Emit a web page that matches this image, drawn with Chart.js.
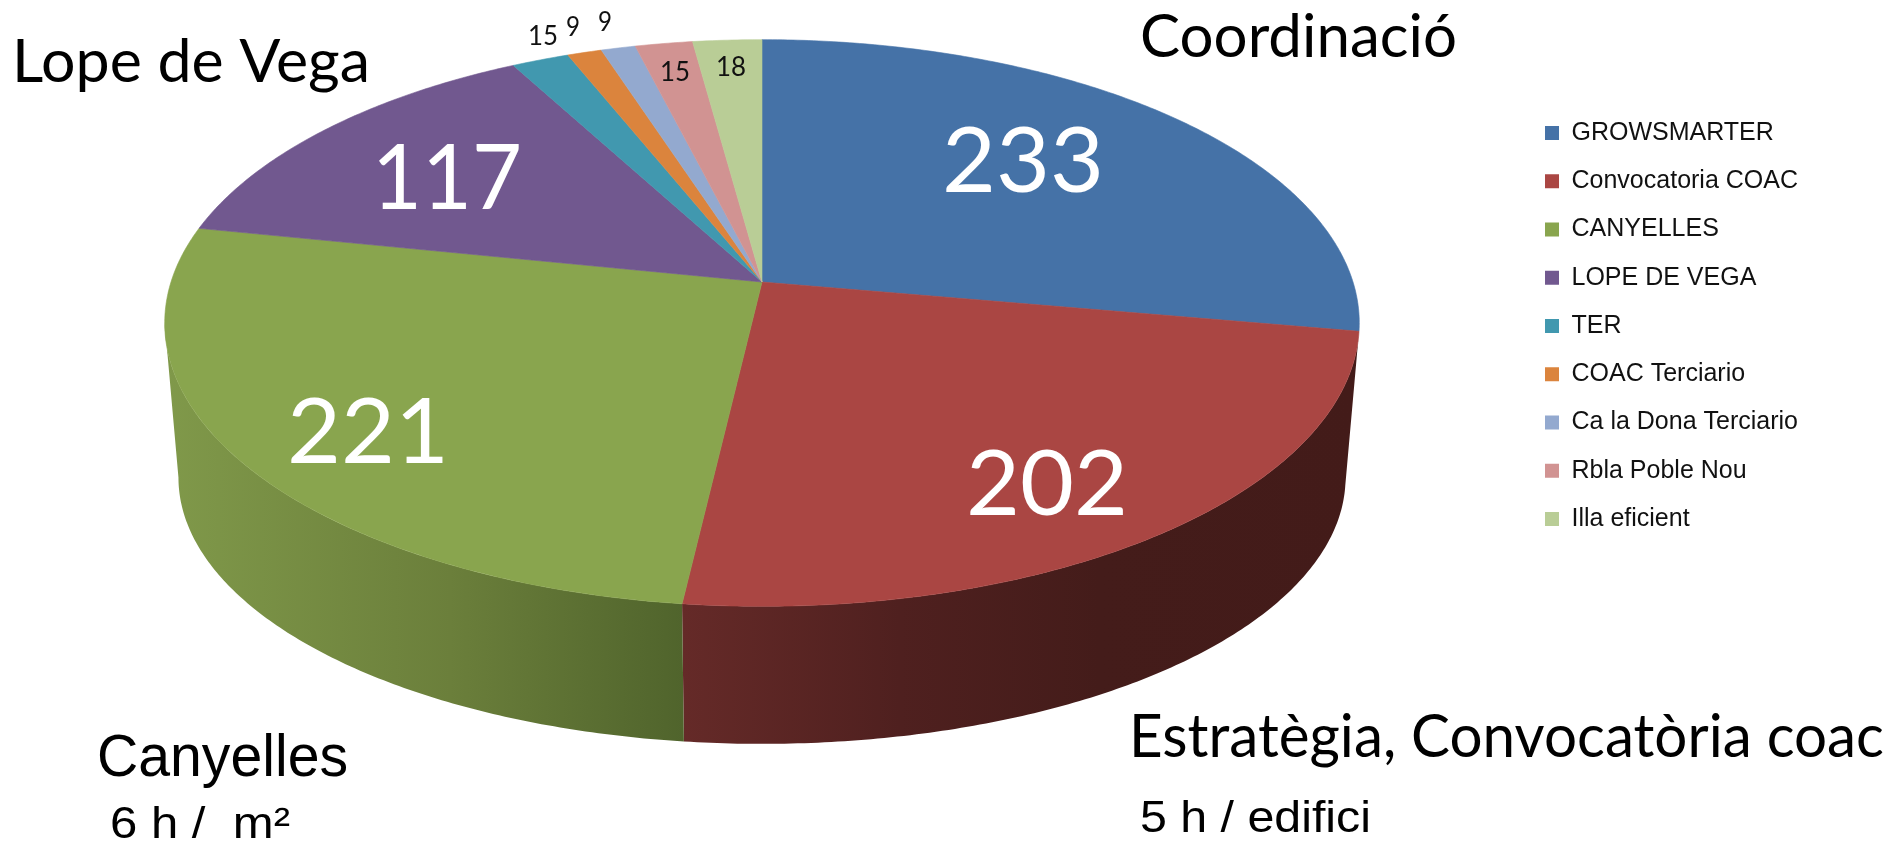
<!DOCTYPE html>
<html>
<head>
<meta charset="utf-8">
<title>Hores per projecte</title>
<script src="https://cdn.jsdelivr.net/npm/chart.js@4"></script>
<style>
  html, body { margin: 0; padding: 0; background: #fff; overflow: hidden; }
  canvas { display: block; }
</style>
</head>
<body>
<canvas id="grafica" width="1891" height="846"></canvas>
<script>
const categorias = ["GROWSMARTER", "Convocatoria COAC", "CANYELLES", "LOPE DE VEGA", "TER", "COAC Terciario", "Ca la Dona Terciario", "Rbla Poble Nou", "Illa eficient"];
const horas = [233, 202, 221, 117, 15, 9, 9, 15, 18];
const colores = ["#4572a7", "#aa4643", "#89a54e", "#71588f", "#4198af", "#db843d", "#93a9cf", "#d19392", "#b9cd96"];

// perspectiva de la tarta: centro, semiejes y fuga
const cx = 762, cy = 282, ejeX = 591, ejeY = 277.4, fuga = -0.1447;
// aro inferior (grosor de la tarta)
const grosor = 157, escalaX = 0.977, escalaY = 0.94;
// angulo donde el canto deja de verse
const limite = Math.asin(-fuga);

// degradado del canto, solo las porciones que se ven de frente
const cantos = [
  null,
  [[683, "#652a28"], [900, "#4f201f"], [1100, "#441c1a"], [1360, "#431b19"]],
  [[164, "#80994a"], [450, "#6b7f3b"], [683, "#50642c"]],
  null, null, null, null, null, null
];

// etiquetas de valor: x, y, tamaño, ancho, color
const etiquetas = [
  [1023, 162, 92, 162, "#fff"],
  [1047, 485, 92, 162, "#fff"],
  [368, 433, 92, 162, "#fff"],
  [447, 179, 92, 150, "#fff"],
  [543, 37, 26, 30, "#111"],
  [573, 28, 26, 14, "#111"],
  [605, 23, 26, 14, "#111"],
  [675, 73, 26, 30, "#111"],
  [731, 68, 26, 30, "#111"]
];

// textos sueltos: texto, x, linea base, fuente, ancho
const textos = [
  ["Coordinació", 1140, 57, "60px Lato", 317],
  ["Lope de Vega", 12, 82, "60px Lato", 358],
  ["Canyelles", 97, 776, "60px 'Liberation Sans'", 251],
  ["6 h /  m²", 110, 838, "44px 'Liberation Sans'", 180],
  ["Estratègia, Convocatòria coac", 1129, 757, "60px Lato", 755],
  ["5 h / edifici", 1140, 832, "44px 'Liberation Sans'", 231]
];

function proyectar(a, r, abajo) {
  const u = r * Math.cos(a), v = r * Math.sin(a);
  const w = 1 + fuga * v;
  if (abajo) {
    return [cx + escalaX * ejeX * u / w, cy + grosor + escalaY * ejeY * v / w];
  }
  return [cx + ejeX * u / w, cy + ejeY * v / w];
}

function trazarArco(ctx, a0, a1, abajo, mover) {
  const pasos = Math.max(4, Math.ceil(Math.abs(a1 - a0) / 0.01));
  for (let i = 0; i <= pasos; i++) {
    const p = proyectar(a0 + (a1 - a0) * i / pasos, 1, abajo);
    if (i === 0 && mover) ctx.moveTo(p[0], p[1]);
    else ctx.lineTo(p[0], p[1]);
  }
}

function textoAjustado(ctx, texto, x, y, fuente, ancho, alinear) {
  ctx.save();
  ctx.font = fuente;
  ctx.textAlign = alinear || "left";
  const medida = ctx.measureText(texto).width;
  ctx.translate(x, y);
  ctx.scale(ancho / medida, 1);
  ctx.fillText(texto, 0, 0);
  ctx.restore();
}

const tarta3d = {
  id: "tarta3d",
  // la libreria calcula los angulos, aqui solo se dibujan en perspectiva
  beforeDatasetDraw(chart) {
    const ctx = chart.ctx;
    const arcos = chart.getDatasetMeta(0).data;

    ctx.save();
    arcos.forEach((arco, i) => {
      if (!cantos[i]) return;
      const a0 = Math.max(arco.startAngle, limite);
      const a1 = Math.min(arco.endAngle, Math.PI - limite);
      if (a1 <= a0) return;
      const paradas = cantos[i];
      const x0 = paradas[0][0], x1 = paradas[paradas.length - 1][0];
      const grad = ctx.createLinearGradient(x0, 0, x1, 0);
      paradas.forEach(p => grad.addColorStop((p[0] - x0) / (x1 - x0), p[1]));
      ctx.beginPath();
      trazarArco(ctx, a0, a1, false, true);
      trazarArco(ctx, a1, a0, true, false);
      ctx.closePath();
      ctx.fillStyle = grad;
      ctx.fill();
    });

    arcos.forEach((arco, i) => {
      ctx.beginPath();
      ctx.moveTo(cx, cy);
      trazarArco(ctx, arco.startAngle, arco.endAngle, false, false);
      ctx.closePath();
      ctx.fillStyle = colores[i];
      ctx.strokeStyle = colores[i];
      ctx.lineWidth = 0.6;
      ctx.fill();
      ctx.stroke();
    });

    ctx.textBaseline = "middle";
    horas.forEach((valor, i) => {
      const e = etiquetas[i];
      ctx.fillStyle = e[4];
      textoAjustado(ctx, String(valor), e[0], e[1], e[2] + "px Lato", e[3], "center");
    });

    ctx.textBaseline = "alphabetic";
    ctx.fillStyle = "#000";
    textos.forEach(t => textoAjustado(ctx, t[0], t[1], t[2], t[3], t[4]));
    ctx.restore();
    return false;
  }
};

new Chart(document.getElementById("grafica"), {
  type: "pie",
  data: {
    labels: categorias,
    datasets: [{ data: horas, backgroundColor: colores, borderWidth: 0 }]
  },
  options: {
    responsive: false,
    animation: false,
    layout: { padding: { right: 83, bottom: 194 } },
    plugins: {
      tooltip: { enabled: false },
      legend: {
        position: "right",
        labels: {
          boxWidth: 14,
          boxHeight: 14,
          padding: 23.25,
          color: "#111",
          font: { family: "'Liberation Sans'", size: 25, lineHeight: 1 }
        }
      }
    }
  },
  plugins: [tarta3d]
});
</script>
</body>
</html>
